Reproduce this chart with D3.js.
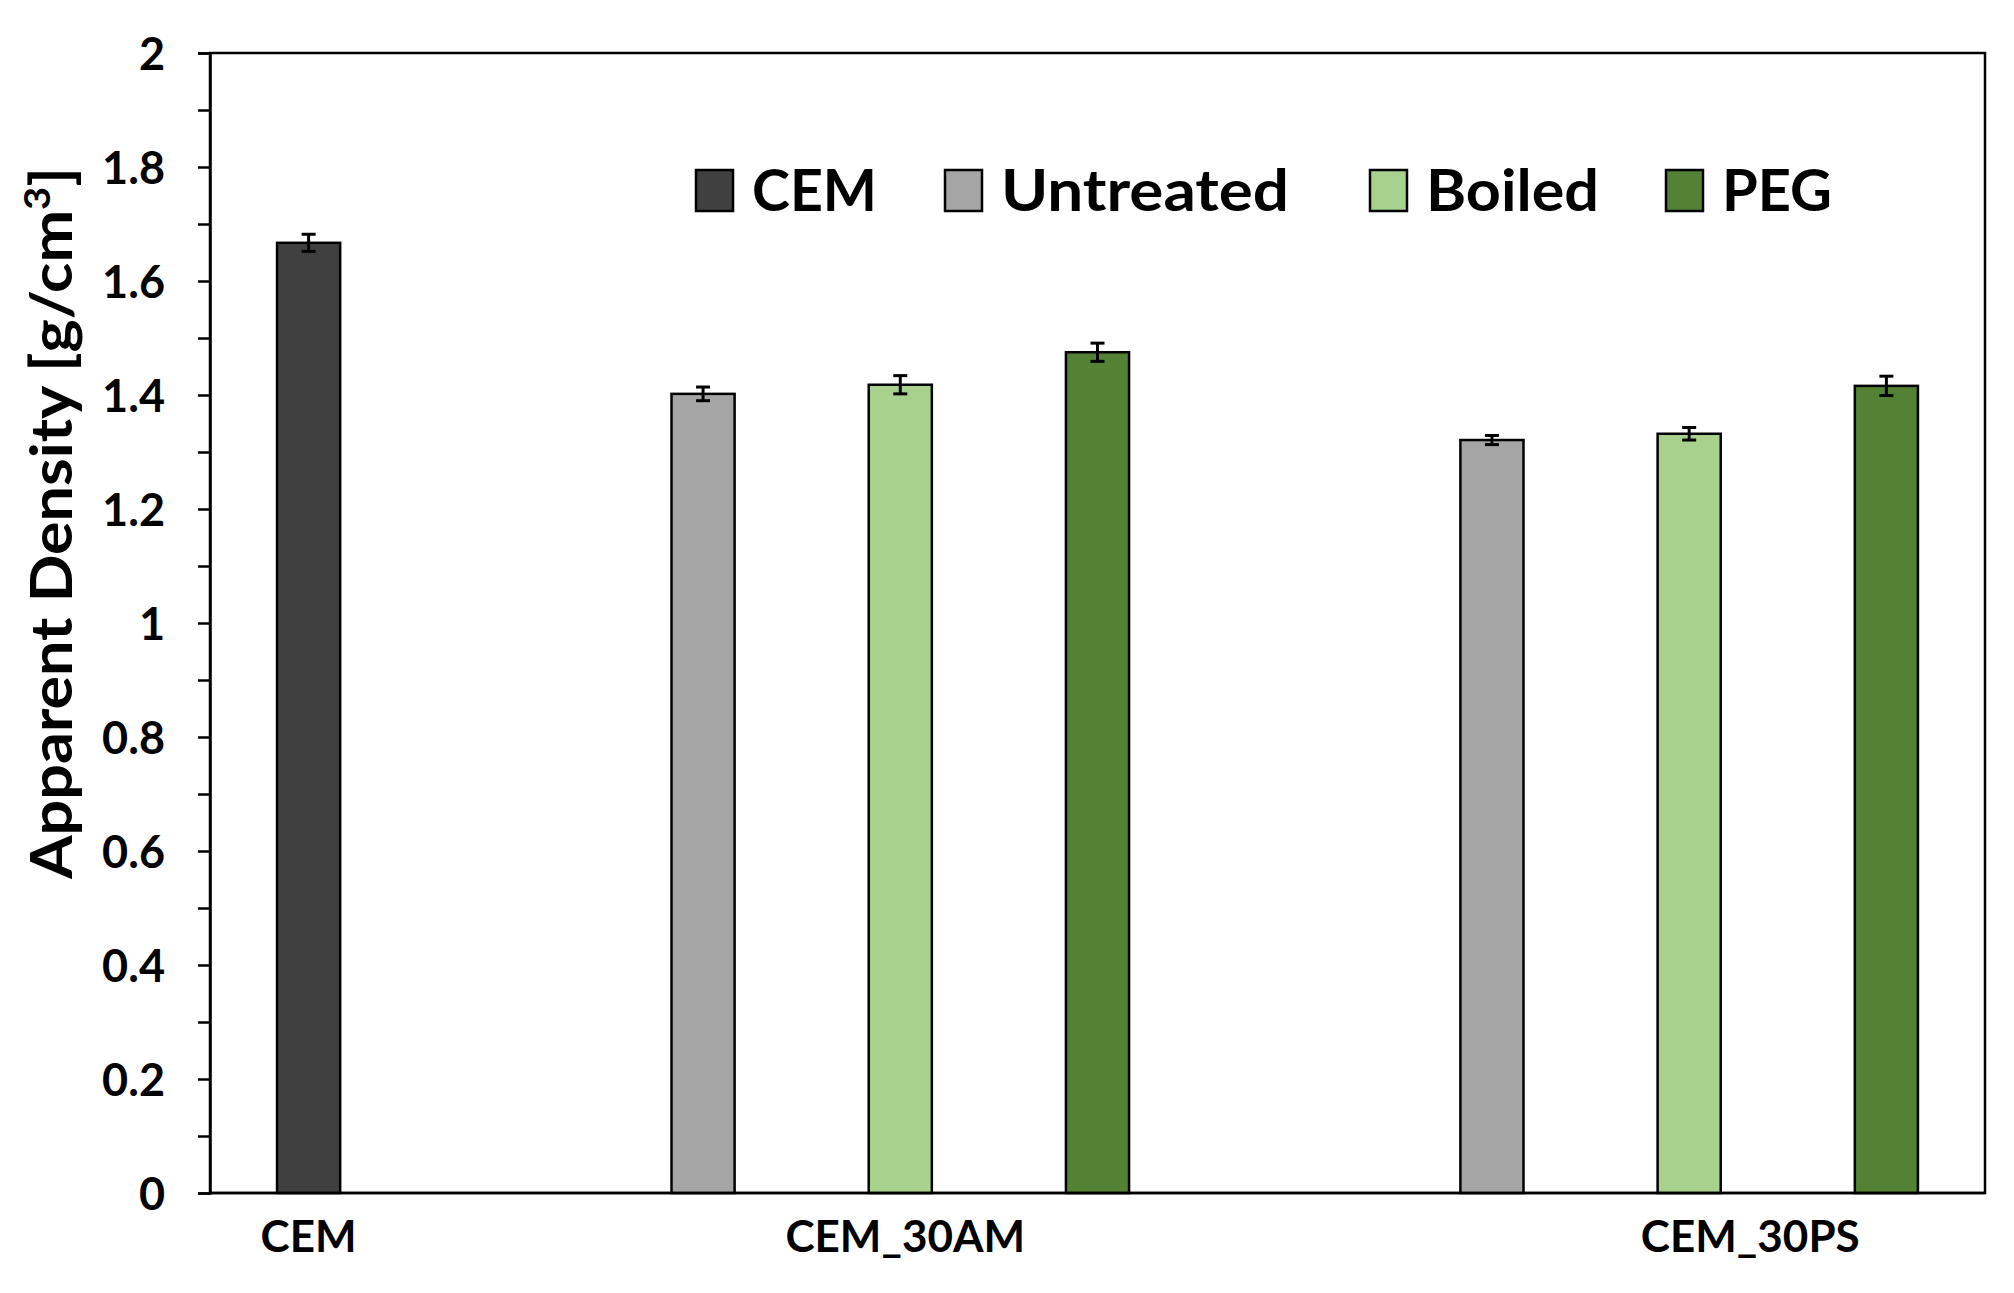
<!DOCTYPE html>
<html>
<head>
<meta charset="utf-8">
<script src="https://cdn.jsdelivr.net/npm/d3@7"></script>
<style>
  html, body { margin: 0; padding: 0; background: #fff; }
  svg { display: block; }
  text { font-family: Lato, "Open Sans", sans-serif; font-weight: bold; fill: #000; }
</style>
</head>
<body>
<svg id="chart" width="2014" height="1293"></svg>
<script>
// ---------------- data ----------------
const groups = ["CEM", "CEM_30AM", "CEM_30PS"];
const seriesNames = ["CEM", "Untreated", "Boiled", "PEG"];
const seriesColors = ["#404040", "#a5a5a5", "#a9d18e", "#548235"];

// slot order along the x axis (Excel-style category slots, some empty)
const slots = ["CEM|CEM", "gap1", "CEM_30AM|Untreated", "CEM_30AM|Boiled", "CEM_30AM|PEG",
               "gap2", "CEM_30PS|Untreated", "CEM_30PS|Boiled", "CEM_30PS|PEG"];

const cemValues   = [1.667];
const cemErrors   = [0.015];
const am30Values  = [1.402, 1.418, 1.475];
const am30Errors  = [0.012, 0.016, 0.016];
const ps30Values  = [1.321, 1.332, 1.416];
const ps30Errors  = [0.008, 0.011, 0.017];

const yTickValues = [0, 0.2, 0.4, 0.6, 0.8, 1, 1.2, 1.4, 1.6, 1.8, 2];
const yTickLabels = ["0", "0.2", "0.4", "0.6", "0.8", "1", "1.2", "1.4", "1.6", "1.8", "2"];
const yMinorTicks = [0.1, 0.3, 0.5, 0.7, 0.9, 1.1, 1.3, 1.5, 1.7, 1.9];

// ---------------- build records ----------------
const bars = [];
bars.push({group: "CEM", series: "CEM", value: cemValues[0], err: cemErrors[0]});
["Untreated", "Boiled", "PEG"].forEach((s, i) => {
  bars.push({group: "CEM_30AM", series: s, value: am30Values[i], err: am30Errors[i]});
});
["Untreated", "Boiled", "PEG"].forEach((s, i) => {
  bars.push({group: "CEM_30PS", series: s, value: ps30Values[i], err: ps30Errors[i]});
});

// ---------------- layout ----------------
const plot = {left: 210, right: 1985, top: 53, bottom: 1193};
const svg = d3.select("#chart");

const x = d3.scaleBand()
  .domain(slots)
  .range([plot.left, plot.right])
  .paddingInner(0.68)
  .paddingOuter(0.34);

const y = d3.scaleLinear().domain([0, 2]).range([plot.bottom, plot.top]);
const color = d3.scaleOrdinal().domain(seriesNames).range(seriesColors);

// plot frame
svg.append("rect")
  .attr("x", plot.left).attr("y", plot.top)
  .attr("width", plot.right - plot.left).attr("height", plot.bottom - plot.top)
  .attr("fill", "none").attr("stroke", "#000").attr("stroke-width", 2.5);

// bars
svg.append("g").selectAll("rect").data(bars).join("rect")
  .attr("x", d => x(d.group + "|" + d.series))
  .attr("y", d => y(d.value))
  .attr("width", x.bandwidth())
  .attr("height", d => y(0) - y(d.value))
  .attr("fill", d => color(d.series))
  .attr("stroke", "#000")
  .attr("stroke-width", 2.5);

// error bars
const eb = svg.append("g").attr("stroke", "#000").attr("stroke-width", 3);
bars.forEach(d => {
  const cx = x(d.group + "|" + d.series) + x.bandwidth() / 2;
  const capW = 7;
  eb.append("line").attr("x1", cx).attr("x2", cx).attr("y1", y(d.value + d.err)).attr("y2", y(d.value - d.err));
  eb.append("line").attr("x1", cx - capW).attr("x2", cx + capW).attr("y1", y(d.value + d.err)).attr("y2", y(d.value + d.err));
  eb.append("line").attr("x1", cx - capW).attr("x2", cx + capW).attr("y1", y(d.value - d.err)).attr("y2", y(d.value - d.err));
});

// y axis (major ticks with labels)
const yAxis = d3.axisLeft(y)
  .tickValues(yTickValues)
  .tickFormat((d, i) => yTickLabels[i])
  .tickSize(12)
  .tickPadding(33);
const gy = svg.append("g").attr("transform", `translate(${plot.left},0)`).call(yAxis);
gy.select(".domain").attr("stroke", "#000").attr("stroke-width", 2.5);
gy.selectAll(".tick line").attr("stroke", "#000").attr("stroke-width", 2.5);
gy.selectAll(".tick text")
  .attr("font-family", "Lato, 'Open Sans', sans-serif")
  .attr("font-weight", "bold")
  .attr("font-size", 45)
  .attr("fill", "#000")
  .attr("dy", "0.36em");

// minor ticks
const yMinor = d3.axisLeft(y).tickValues(yMinorTicks).tickFormat("").tickSize(12);
const gym = svg.append("g").attr("transform", `translate(${plot.left},0)`).call(yMinor);
gym.select(".domain").remove();
gym.selectAll(".tick line").attr("stroke", "#000").attr("stroke-width", 2.5);

// x axis baseline
svg.append("line")
  .attr("x1", plot.left).attr("x2", plot.right)
  .attr("y1", y(0)).attr("y2", y(0))
  .attr("stroke", "#000").attr("stroke-width", 2.5);

// category labels
const groupLabelPos = {
  "CEM": x("CEM|CEM") + x.bandwidth() / 2,
  "CEM_30AM": x("CEM_30AM|Boiled") + x.bandwidth() / 2 + 5,
  "CEM_30PS": x("CEM_30PS|Boiled") + x.step() * 0.31 + x.bandwidth() / 2
};
svg.append("g").selectAll("text").data(groups).join("text")
  .attr("x", d => groupLabelPos[d])
  .attr("y", 1252)
  .attr("text-anchor", "middle")
  .attr("font-size", 44)
  .text(d => d);

// y title
const yTitle = svg.append("text")
  .attr("transform", "translate(72,523) rotate(-90)")
  .attr("text-anchor", "middle")
  .attr("font-size", 58)
  .attr("textLength", 712)
  .attr("lengthAdjust", "spacingAndGlyphs");
yTitle.append("tspan").text("Apparent Density [g/cm");
yTitle.append("tspan").attr("font-size", 37).attr("dy", -22).text("3");
yTitle.append("tspan").attr("dy", 22).text("]");

// legend
const legendX = [696, 945, 1370, 1666];
const legendTextWidth = [125, 288, 173, 110];
const legend = svg.append("g");
seriesNames.forEach((s, i) => {
  const g = legend.append("g").attr("transform", `translate(${legendX[i]},0)`);
  g.append("rect").attr("x", 0).attr("y", 170).attr("width", 37).attr("height", 41)
    .attr("fill", color(s)).attr("stroke", "#000").attr("stroke-width", 2.5);
  g.append("text").attr("x", 56).attr("y", 211).attr("font-size", 58)
    .attr("textLength", legendTextWidth[i]).attr("lengthAdjust", "spacingAndGlyphs")
    .text(s);
});
</script>
</body>
</html>
